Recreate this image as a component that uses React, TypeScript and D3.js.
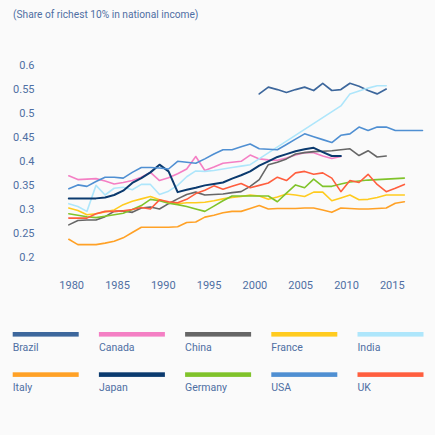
import React from "react";
import * as d3 from "d3";

const START_YEAR = 1980;
const N = null;

const brazil = [N, N, N, N, N, N, N, N, N, N, N, N, N, N, N, N, N, N, N, N, N,
  0.540, 0.554, 0.549, 0.543, 0.549, 0.554, 0.547, 0.562, 0.547, 0.549, 0.562, 0.556, 0.547, 0.540, 0.550];
const canada = [0.370, 0.362, 0.363, 0.364, 0.359, 0.353, 0.356, 0.360, 0.367, 0.377, 0.360, 0.366, 0.374, 0.384, 0.410,
  0.381, 0.388, 0.396, 0.398, 0.400, 0.413, 0.405, 0.403, 0.402, 0.407, 0.413, 0.418, 0.418, 0.411, 0.406, 0.410];
const china = [0.268, 0.277, 0.278, 0.278, 0.285, 0.296, 0.297, 0.294, 0.303, 0.305, 0.301, 0.312, 0.322, 0.331, 0.336,
  0.330, 0.331, 0.332, 0.335, 0.337, 0.348, 0.362, 0.393, 0.398, 0.405, 0.415, 0.418, 0.420, 0.421, 0.422, 0.424, 0.426,
  0.412, 0.422, 0.409, 0.411];
const france = [0.303, 0.298, 0.289, 0.291, 0.295, 0.299, 0.310, 0.317, 0.322, 0.327, 0.320, 0.314, 0.312, 0.314, 0.314,
  0.315, 0.318, 0.322, 0.325, 0.327, 0.330, 0.328, 0.321, 0.326, 0.332, 0.330, 0.327, 0.336, 0.336, 0.318, 0.324, 0.330,
  0.320, 0.321, 0.325, 0.330, 0.330, 0.330];
const india = [0.312, 0.306, 0.296, 0.350, 0.330, 0.344, 0.346, 0.341, 0.352, 0.352, 0.331, 0.338, 0.350, 0.368, 0.380,
  0.379, 0.381, 0.384, 0.387, 0.390, 0.393, N, N, N, N, N, N, N, N, N, 0.515, 0.540, 0.546, 0.552, 0.557, 0.557];
const italy = [0.238, 0.227, 0.227, 0.227, 0.230, 0.234, 0.241, 0.252, 0.263, 0.263, 0.263, 0.263, 0.264, 0.273, 0.274,
  0.284, 0.288, 0.293, 0.296, 0.296, 0.302, 0.308, 0.301, 0.302, 0.302, 0.302, 0.303, 0.303, 0.299, 0.294, 0.303, 0.302,
  0.301, 0.301, 0.302, 0.303, 0.313, 0.316];
const japan = [0.323, 0.323, 0.323, 0.323, 0.325, 0.330, 0.339, 0.355, 0.365, 0.377, 0.393, 0.379, 0.336, 0.341, 0.345,
  0.350, 0.353, 0.356, 0.364, 0.371, 0.379, 0.391, 0.400, 0.409, 0.415, 0.421, 0.425, 0.428, 0.419, 0.411, 0.411];
const germany = [0.291, 0.288, 0.285, 0.283, 0.286, 0.289, 0.292, 0.300, 0.308, 0.321, 0.318, 0.313, 0.310, 0.306, 0.301,
  0.296, 0.307, 0.318, 0.328, 0.328, 0.328, 0.328, 0.328, 0.316, 0.334, 0.351, 0.345, 0.363, 0.348, 0.348, 0.353, 0.357,
  0.359, 0.361, 0.362, 0.363, 0.364, 0.365];
const usa = [0.343, 0.351, 0.348, 0.358, 0.367, 0.367, 0.365, 0.377, 0.387, 0.387, 0.386, 0.384, 0.400, 0.398, 0.396,
  0.405, 0.415, 0.424, 0.424, 0.430, 0.436, 0.426, 0.425, 0.424, 0.435, 0.446, 0.457, 0.451, 0.445, 0.439, 0.454, 0.457,
  0.471, 0.464, 0.471, 0.471, 0.464, 0.464, 0.464, 0.464];
const uk = [0.282, 0.282, 0.282, 0.291, 0.296, 0.296, 0.297, 0.300, 0.304, 0.301, 0.320, 0.316, 0.314, 0.321, 0.333,
  0.340, 0.349, 0.342, 0.348, 0.354, 0.345, 0.350, 0.355, 0.367, 0.360, 0.376, 0.379, 0.373, 0.376, 0.365, 0.337, 0.360,
  0.356, 0.373, 0.352, 0.337, 0.344, 0.352];

const countries = ["Brazil", "Canada", "China", "France", "India", "Italy", "Japan", "Germany", "USA", "UK"];
const seriesValues = [brazil, canada, china, france, india, italy, japan, germany, usa, uk];
const colors = ["#3d679c", "#f47fc4", "#666666", "#ffcb1f", "#aee6fb", "#ffa126", "#0b3a6e", "#80c32a", "#4f8fd2", "#ff5e3e"];
const widths = [1.7, 1.6, 1.6, 1.6, 1.6, 1.6, 2, 1.6, 1.6, 1.6];

const yTicks = [0.2, 0.25, 0.3, 0.35, 0.4, 0.45, 0.5, 0.55, 0.6];
const xTicks = [1980, 1985, 1990, 1995, 2000, 2005, 2010, 2015];
const subtitle = "(Share of richest 10% in national income)";

const W = 435;
const H = 435;
const textColor = "#4f6fa3";
const font = "Roboto, 'Noto Sans', sans-serif";

export default function App() {
  const x = d3.scaleLinear().domain([1980, 2019]).range([68.8, 422.5]);
  const xLabel = d3.scaleLinear().domain([1980, 2015]).range([71.7, 392.3]);
  const y = d3.scaleLinear().domain([0.2, 0.6]).range([257.6, 65]);

  const line = d3
    .line<[number, number]>()
    .x((d) => x(d[0]))
    .y((d) => y(d[1]));

  const paths = seriesValues.map((vals) => {
    const pts: [number, number][] = [];
    vals.forEach((v, i) => {
      if (v !== null && v !== undefined) pts.push([START_YEAR + i, v as number]);
    });
    return line(pts) || "";
  });

  const colW = 86.2;
  const legendX0 = 12.7;

  return (
    <svg
      width={W}
      height={H}
      style={{ position: "absolute", left: 0, top: 0, background: "#fafafa", fontFamily: font }}
    >
      <rect x={0} y={0} width={W} height={H} fill="#fafafa" />
      <text x={13} y={18} fontSize={10.2} fill={textColor}>
        {subtitle}
      </text>

      {yTicks.map((t) => (
        <text key={t} x={34.5} y={y(t)} dy="0.35em" textAnchor="end" fontSize={11} fill={textColor}>
          {String(t)}
        </text>
      ))}

      {xTicks.map((t) => (
        <text key={t} x={xLabel(t)} y={289.3} textAnchor="middle" fontSize={11} fill={textColor}>
          {t}
        </text>
      ))}

      {paths.map((d, i) => (
        <path
          key={countries[i]}
          d={d}
          fill="none"
          stroke={colors[i]}
          strokeWidth={widths[i]}
          strokeLinejoin="round"
          strokeLinecap="round"
        />
      ))}

      {countries.map((c, i) => {
        const col = i % 5;
        const row = Math.floor(i / 5);
        const lx = legendX0 + col * colW;
        const ly = 332 + row * 40.3;
        return (
          <g key={c}>
            <rect x={lx} y={ly} width={66} height={4.6} fill={colors[i]} />
            <text x={lx} y={ly + 19} fontSize={10.5} fill={textColor}>
              {c}
            </text>
          </g>
        );
      })}
    </svg>
  );
}
